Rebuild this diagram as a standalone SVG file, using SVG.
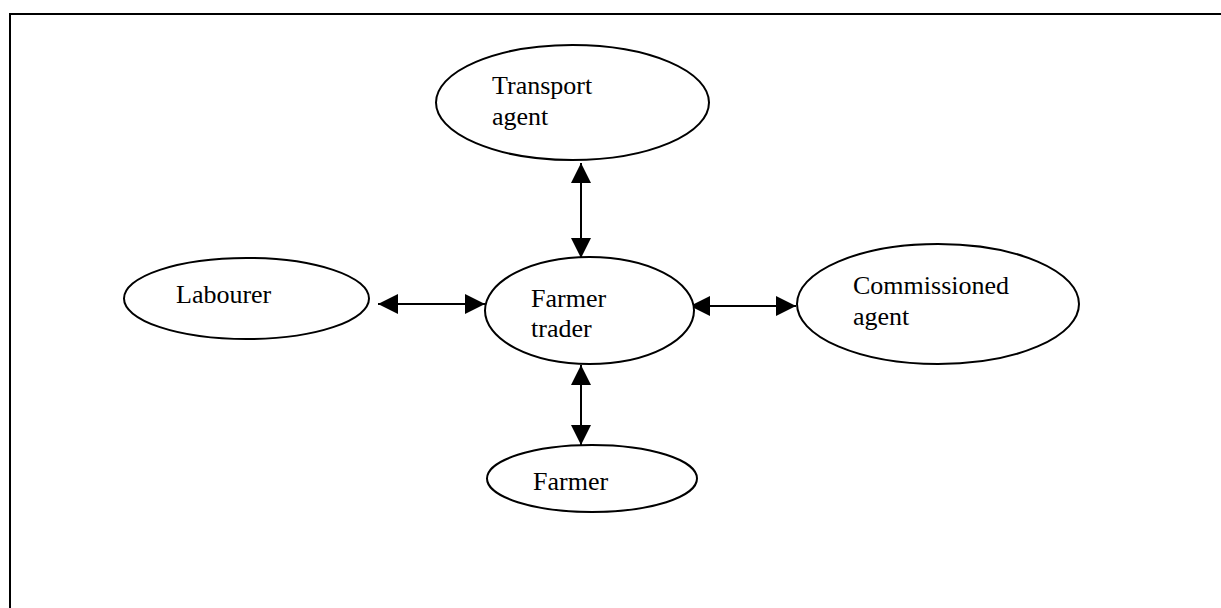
<svg xmlns="http://www.w3.org/2000/svg" width="1221" height="608" viewBox="0 0 1221 608">
  <style>
    .node { fill: #ffffff; stroke: #000000; stroke-width: 2; }
    .label { font-family: "Liberation Serif", "Times New Roman", serif; font-size: 26px; fill: #000000; }
    .link { stroke: #000000; stroke-width: 2; fill: none; marker-start: url(#head); marker-end: url(#head); }
  </style>
  <defs>
    <marker id="head" markerUnits="userSpaceOnUse" markerWidth="20" markerHeight="20" viewBox="0 0 20 20" refX="20" refY="10" orient="auto-start-reverse">
      <path d="M0,0 L20,10 L0,20 Z" fill="#000000"/>
    </marker>
  </defs>

  <rect width="1221" height="608" fill="#ffffff"/>
  <!-- page frame -->
  <path d="M10,610 L10,14 L1223,14" fill="none" stroke="#000000" stroke-width="2"/>

  <g id="connectors">
    <line class="link" x1="581" y1="163" x2="581" y2="258"/>
    <line class="link" x1="581" y1="365" x2="581" y2="445"/>
    <line class="link" x1="378" y1="304" x2="485" y2="304"/>
    <line class="link" x1="690" y1="306" x2="796" y2="306"/>
  </g>

  <g id="transport-agent">
    <ellipse class="node" cx="572.5" cy="102.5" rx="136.5" ry="57.5"/>
    <text class="label" x="492" y="94">Transport</text>
    <text class="label" x="492" y="125">agent</text>
  </g>

  <g id="labourer">
    <ellipse class="node" cx="246.5" cy="298.5" rx="122.5" ry="40.5"/>
    <text class="label" x="176" y="303">Labourer</text>
  </g>

  <g id="farmer-trader">
    <ellipse class="node" cx="589.5" cy="310.5" rx="104.5" ry="53.5"/>
    <text class="label" x="531" y="307">Farmer</text>
    <text class="label" x="531" y="337">trader</text>
  </g>

  <g id="commissioned-agent">
    <ellipse class="node" cx="938" cy="304" rx="141" ry="60"/>
    <text class="label" x="853" y="294">Commissioned</text>
    <text class="label" x="853" y="325">agent</text>
  </g>

  <g id="farmer">
    <ellipse class="node" cx="592" cy="478.5" rx="105" ry="33.5"/>
    <text class="label" x="533" y="490">Farmer</text>
  </g>
</svg>
